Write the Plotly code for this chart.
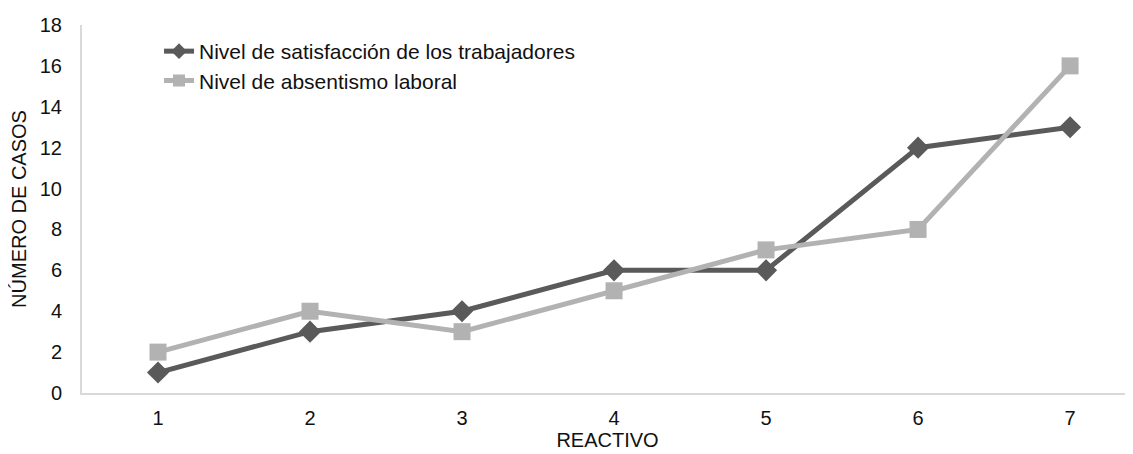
import plotly.graph_objects as go

reactivo = [1, 2, 3, 4, 5, 6, 7]
satisfaccion = [1, 3, 4, 6, 6, 12, 13]
absentismo = [2, 4, 3, 5, 7, 8, 16]
y_ticks = [0, 2, 4, 6, 8, 10, 12, 14, 16, 18]

DARK = "#5a5a5a"
LIGHT = "#b2b2b2"
FONT = dict(family="Liberation Sans, Arial, sans-serif", size=20, color="#111111")
LEG_FONT = dict(family="Liberation Sans, Arial, sans-serif", size=21, color="#111111")

fig = go.Figure()
fig.add_trace(go.Scatter(
    x=reactivo, y=satisfaccion, mode="lines+markers",
    name="Nivel de satisfacción de los trabajadores",
    line=dict(color=DARK, width=5),
    marker=dict(symbol="diamond", size=17, color=DARK),
    legend="legend", showlegend=True,
))
fig.add_trace(go.Scatter(
    x=reactivo, y=absentismo, mode="lines+markers",
    name="Nivel de absentismo laboral",
    line=dict(color=LIGHT, width=5),
    marker=dict(symbol="square", size=17, color=LIGHT),
    legend="legend2", showlegend=True,
))

legend_common = dict(
    xref="paper", yref="paper", xanchor="left", yanchor="middle",
    font=LEG_FONT, bgcolor="rgba(0,0,0,0)", borderwidth=0,
    itemwidth=30, itemsizing="constant", visible=True,
)
fig.update_layout(
    width=1125, height=446,
    margin=dict(l=74, r=0, t=17, b=61),
    paper_bgcolor="white", plot_bgcolor="white",
    font=FONT,
    showlegend=True,
    legend=dict(x=0.0733, y=0.928, **legend_common),
    legend2=dict(x=0.0733, y=0.848, **legend_common),
    xaxis=dict(
        range=[0.5, 7.414], tickvals=reactivo, ticktext=[str(v) for v in reactivo],
        showgrid=False, zeroline=False, showline=True, linecolor="#d9d9d9", linewidth=2,
        ticks="", ticklabelstandoff=6, tickfont=FONT, automargin=False,
        title=dict(text="REACTIVO", font=FONT, standoff=2),
    ),
    yaxis=dict(
        range=[0, 18], tickvals=y_ticks,
        showgrid=False, zeroline=False, showline=True, linecolor="#d9d9d9", linewidth=2,
        ticks="", ticklabelstandoff=14, tickfont=FONT, automargin=False,
        title=dict(text="NÚMERO DE CASOS", font=FONT, standoff=8),
    ),
)

fig.write_html("out.html")
